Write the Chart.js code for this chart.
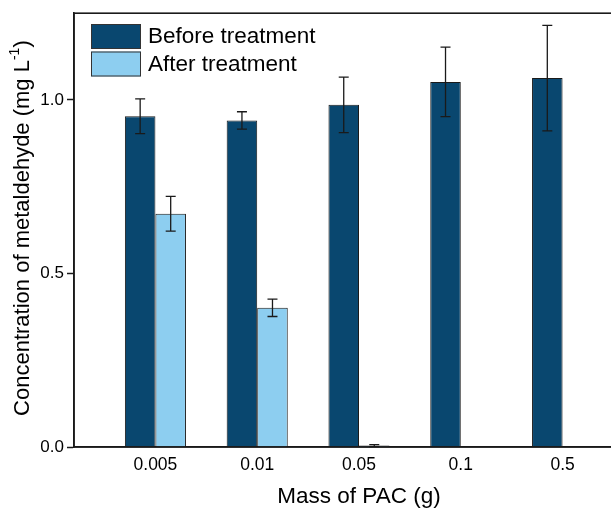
<!DOCTYPE html>
<html>
<head>
<meta charset="utf-8">
<script src="https://cdn.jsdelivr.net/npm/chart.js@4.4.0/dist/chart.umd.min.js"></script>
<style>
  html, body { margin: 0; padding: 0; overflow: hidden; background: #fff; }
  canvas { display: block; }
</style>
</head>
<body>
<canvas id="chart" width="660" height="508"></canvas>
<script>
const masses = ["0.005", "0.01", "0.05", "0.1", "0.5"];
const beforeVals = [0.953, 0.941, 0.986, 1.052, 1.063];
const beforeErr = [0.050, 0.025, 0.080, 0.100, 0.152];
const afterVals = [0.672, 0.401, 0.004, 0, 0];
const afterErr = [0.050, 0.025, 0.003, 0, 0];
const yTicks = [0, 0.5, 1.0];

const seriesNames = ["Before treatment", "After treatment"];
const errs = [beforeErr, afterErr];
const FONT = "'Liberation Sans', Arial, sans-serif";

// error bars drawn through the scales
const errorBars = {
    id: "errorBars",
    afterDatasetsDraw(chart) {
        const ctx = chart.ctx;
        const y = chart.scales.y;
        ctx.save();
        ctx.strokeStyle = "#1a1a1a";
        ctx.lineWidth = 1.3;
        chart.data.datasets.forEach((ds, d) => {
            const meta = chart.getDatasetMeta(d);
            meta.data.forEach((bar, i) => {
                const e = errs[d][i];
                if (!e) return;
                const v = ds.data[i].y;
                const top = y.getPixelForValue(v + e);
                const bot = y.getPixelForValue(v - e);
                const x = bar.x;
                ctx.beginPath();
                ctx.moveTo(x, top); ctx.lineTo(x, bot);
                ctx.moveTo(x - 5, top); ctx.lineTo(x + 5, top);
                ctx.moveTo(x - 5, bot); ctx.lineTo(x + 5, bot);
                ctx.stroke();
            });
        });
        ctx.restore();
    }
};

// frame, legend and y title with superscript
const decor = {
    id: "decor",
    afterDraw(chart) {
        const ctx = chart.ctx;
        const a = chart.chartArea;
        ctx.save();
        ctx.strokeStyle = "#1a1a1a";
        ctx.lineWidth = 1.6;
        ctx.strokeRect(a.left, a.top, a.right - a.left, a.bottom - a.top);

        // legend
        chart.data.datasets.forEach((ds, d) => {
            const by = 24 + d * 27.5;
            ctx.fillStyle = ds.backgroundColor;
            ctx.fillRect(91, by, 50, 25);
            ctx.strokeStyle = "#333";
            ctx.lineWidth = 1;
            ctx.strokeRect(91.5, by + 0.5, 49, 24);
            ctx.fillStyle = "#000";
            ctx.font = "22.5px " + FONT;
            ctx.textBaseline = "middle";
            ctx.textAlign = "left";
            ctx.fillText(ds.label, 148, by + 13);
        });

        // y title
        const main = "Concentration of metaldehyde (mg L";
        const sup = "-1";
        const close = ")";
        ctx.translate(23, (a.top + a.bottom) / 2 - 2);
        ctx.rotate(-Math.PI / 2);
        ctx.font = "22px " + FONT;
        const w1 = ctx.measureText(main).width;
        const w3 = ctx.measureText(close).width;
        ctx.font = "14px " + FONT;
        const w2 = ctx.measureText(sup).width;
        const total = w1 + w2 + w3;
        let x = -total / 2;
        ctx.fillStyle = "#000";
        ctx.textAlign = "left";
        ctx.textBaseline = "middle";
        ctx.font = "22px " + FONT;
        ctx.fillText(main, x, 0);
        x += w1;
        ctx.font = "14px " + FONT;
        ctx.fillText(sup, x, -8);
        x += w2;
        ctx.font = "22px " + FONT;
        ctx.fillText(close, x, 0);
        ctx.restore();
    }
};

new Chart(document.getElementById("chart"), {
    type: "bar",
    data: {
        datasets: [
            {
                label: seriesNames[0],
                data: masses.map((m, i) => ({ x: i, y: beforeVals[i] })),
                backgroundColor: "#09476F",
                borderColor: "#1a1a1a",
                borderWidth: 1
            },
            {
                label: seriesNames[1],
                data: masses.map((m, i) => ({ x: i, y: afterVals[i] })),
                backgroundColor: "#8DCEF0",
                borderColor: "#1a1a1a",
                borderWidth: 1
            }
        ]
    },
    options: {
        responsive: false,
        animation: false,
        devicePixelRatio: 1,
        categoryPercentage: 0.6,
        barPercentage: 1.0,
        layout: { padding: { left: 0, right: 16, top: 12, bottom: 0 } },
        plugins: {
            legend: { display: false },
            tooltip: { enabled: false }
        },
        scales: {
            x: {
                type: "linear",
                offset: false,
                min: -0.8,
                max: 4.8,
                afterBuildTicks: s => { s.ticks = masses.map((m, i) => ({ value: i })); },
                afterFit: s => { s.height = 61; },
                grid: { display: true, drawOnChartArea: false, drawTicks: false },
                border: { display: true, color: "#1a1a1a", width: 1.6 },
                ticks: {
                    padding: 8,
                    color: "#000",
                    font: { family: FONT, size: 17.5 },
                    callback: v => masses[v]
                },
                title: {
                    display: true,
                    text: "Mass of PAC (g)",
                    color: "#000",
                    font: { family: FONT, size: 22.5, lineHeight: 1 },
                    padding: { top: 4, bottom: 0 }
                }
            },
            y: {
                min: 0,
                max: 1.25,
                afterBuildTicks: s => { s.ticks = yTicks.map(v => ({ value: v })); },
                afterFit: s => { s.width = 74; },
                grid: {
                    display: true, drawOnChartArea: false, drawTicks: true,
                    tickLength: 7, color: "#1a1a1a", tickWidth: 1.5
                },
                border: { display: true, color: "#1a1a1a", width: 1.6 },
                ticks: {
                    padding: 3,
                    color: "#000",
                    font: { family: FONT, size: 17 },
                    callback: v => v.toFixed(1)
                }
            }
        }
    },
    plugins: [errorBars, decor]
});
</script>
</body>
</html>
